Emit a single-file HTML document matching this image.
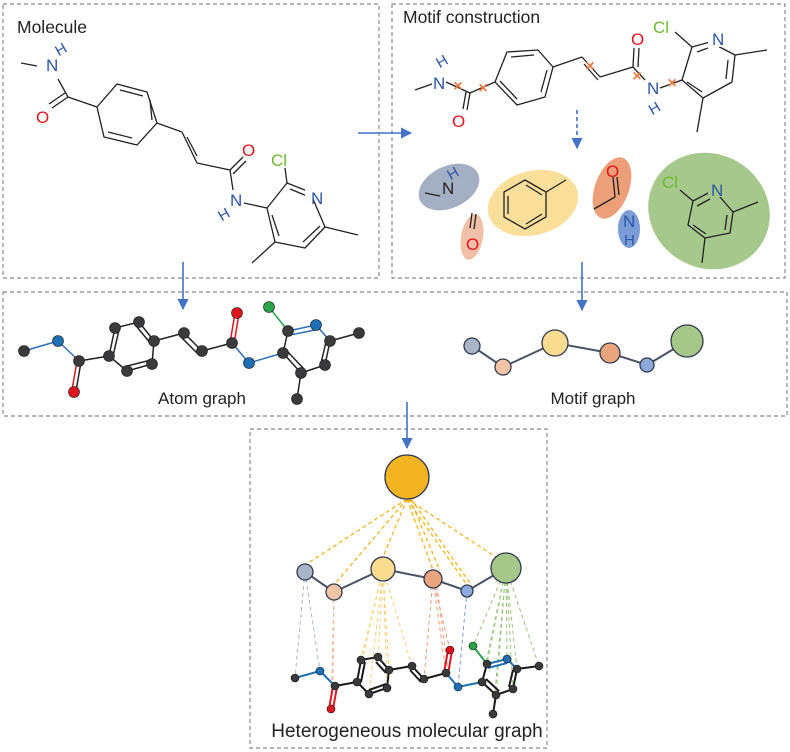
<!DOCTYPE html>
<html><head><meta charset="utf-8"><style>
html,body{margin:0;padding:0;background:#fff}
svg{display:block}
text{font-family:"Liberation Sans",Arial,sans-serif}
</style></head><body>
<svg width="790" height="752" viewBox="0 0 790 752" xmlns="http://www.w3.org/2000/svg">
<defs>
<marker id="ah" viewBox="0 0 10 10" refX="9" refY="5" markerWidth="7" markerHeight="7" orient="auto"><path d="M0,0 L10,5 L0,10 z" fill="#4472c4"/></marker>
</defs>
<g fill="none" stroke="#888" stroke-width="1.2" stroke-dasharray="4,3">
<rect x="3" y="4" width="376" height="274"/>
<rect x="392" y="4" width="393" height="274"/>
<rect x="3" y="292" width="784" height="124"/>
<rect x="250" y="429" width="297" height="319"/>
</g>
<g stroke="#4472c4" stroke-width="1.6" fill="none">
<line x1="358" y1="133" x2="411" y2="133" marker-end="url(#ah)"/>
<line x1="183" y1="262" x2="183" y2="309" marker-end="url(#ah)"/>
<line x1="582" y1="262" x2="582" y2="310" marker-end="url(#ah)"/>
<line x1="407" y1="402" x2="407" y2="448" marker-end="url(#ah)"/>
<line x1="577" y1="110" x2="577" y2="148" stroke-dasharray="4,3" marker-end="url(#ah)"/>
</g>
<text x="17" y="33" font-size="17.5" fill="#222">Molecule</text>
<text x="403" y="23" font-size="17.5" fill="#222">Motif construction</text>
<text x="202" y="404" font-size="17" fill="#222" text-anchor="middle">Atom graph</text>
<text x="593" y="404" font-size="17" fill="#222" text-anchor="middle">Motif graph</text>
<text x="407" y="737" font-size="19" fill="#222" text-anchor="middle">Heterogeneous molecular graph</text>

<g stroke="#222" stroke-width="1.3" fill="none">
<line x1="21" y1="63" x2="37" y2="66"/>
<line x1="58" y1="79" x2="68" y2="97"/>
<line x1="68" y1="97" x2="52" y2="108"/><line x1="65" y1="93" x2="49" y2="104"/>
<line x1="68" y1="97" x2="97" y2="107"/>
<polygon points="97,107 117,84 147,92 157,123 137,145 104,137"/>
<line x1="120" y1="90" x2="143" y2="96"/><line x1="150" y1="100" x2="152" y2="120"/><line x1="108" y1="132" x2="132" y2="138"/>
<line x1="157" y1="123" x2="182" y2="132"/>
<line x1="182" y1="132" x2="197" y2="163"/><line x1="187" y1="137" x2="197" y2="156"/>
<line x1="197" y1="163" x2="230" y2="170"/>
<line x1="230" y1="170" x2="243" y2="157"/><line x1="233" y1="174" x2="246" y2="161"/>
<line x1="230" y1="170" x2="233" y2="190"/>
<line x1="244" y1="203" x2="267" y2="208"/>
<polygon points="267,208 287,183 310,192 325,227 305,248 275,242" stroke-linejoin="round"/>
<line x1="290" y1="189" x2="307" y2="196" /><line x1="320" y1="226" x2="303" y2="242"/><line x1="272" y1="215" x2="279" y2="236"/>
<line x1="287" y1="183" x2="285" y2="168"/>
<line x1="325" y1="227" x2="358" y2="235"/>
<line x1="275" y1="242" x2="252" y2="263"/>
</g>
<rect x="305" y="183" width="16" height="16" fill="#fff"/>
<g font-size="17">
<text x="46" y="71" fill="#2e56a8">N</text>
<text x="56" y="54" fill="#2e56a8" font-size="15" transform="rotate(-30 62 50)">H</text>
<text x="36" y="123" fill="#e8141c">O</text>
<text x="242" y="156" fill="#e8141c">O</text>
<text x="230" y="206" fill="#2e56a8">N</text>
<text x="219" y="219" fill="#2e56a8" font-size="15" transform="rotate(-30 225 215)">H</text>
<text x="271" y="166" fill="#6dbb2e">Cl</text>
<text x="311" y="204" fill="#2e56a8">N</text>
</g>

<g stroke="#222" stroke-width="1.3" fill="none">
<line x1="415" y1="90" x2="432" y2="84"/>
<line x1="446" y1="82" x2="470" y2="93"/>
<line x1="470" y1="93" x2="467" y2="110"/><line x1="466" y1="92" x2="463" y2="109"/>
<line x1="470" y1="93" x2="495" y2="82"/>
<polygon points="495,82 507,52 538,50 553,67 545,97 517,105"/>
<line x1="511" y1="57" x2="534" y2="55"/><line x1="547" y1="70" x2="541" y2="92"/><line x1="500" y1="81" x2="517" y2="99"/>
<line x1="553" y1="67" x2="582" y2="57"/>
<line x1="582" y1="57" x2="600" y2="77"/><line x1="584" y1="64" x2="598" y2="80"/>
<line x1="600" y1="77" x2="633" y2="67"/>
<line x1="633" y1="67" x2="634" y2="48"/><line x1="638" y1="67" x2="639" y2="48"/>
<line x1="633" y1="67" x2="645" y2="80"/>
<line x1="660" y1="88" x2="682" y2="80"/>
<polygon points="682,80 692,47 710,42 735,55 732,82 703,98" stroke-linejoin="round"/>
<line x1="697" y1="52" x2="708" y2="48"/><line x1="728" y1="60" x2="726" y2="79"/><line x1="687" y1="82" x2="702" y2="92"/>
<line x1="692" y1="47" x2="675" y2="32"/>
<line x1="735" y1="55" x2="767" y2="50"/>
<line x1="703" y1="98" x2="697" y2="132"/>
</g>
<rect x="708" y="31" width="16" height="16" fill="#fff"/>
<g font-size="17">
<text x="433" y="89" fill="#2e56a8">N</text>
<text x="437" y="66" fill="#2e56a8" font-size="15" transform="rotate(-30 443 62)">H</text>
<text x="452" y="127" fill="#e8141c">O</text>
<text x="631" y="45" fill="#e8141c">O</text>
<text x="647" y="94" fill="#2e56a8">N</text>
<text x="649" y="113" fill="#2e56a8" font-size="15" transform="rotate(-30 655 108)">H</text>
<text x="653" y="33" fill="#6dbb2e">Cl</text>
<text x="712" y="45" fill="#2e56a8">N</text>
</g>
<g fill="#f07a45" font-size="16" font-weight="bold" text-anchor="middle">
<text x="458" y="91">×</text><text x="483" y="93">×</text><text x="590" y="71">×</text><text x="637" y="81">×</text><text x="672" y="88">×</text>
</g>

<ellipse cx="449" cy="187" rx="32" ry="21" fill="#a4afc3" transform="rotate(-25 449 187)"/>
<ellipse cx="472" cy="237" rx="11" ry="23" fill="#f2c0a8" transform="rotate(10 472 237)"/>
<ellipse cx="533" cy="203" rx="46" ry="32" fill="#fadf9a" transform="rotate(-15 533 203)"/>
<ellipse cx="612" cy="188" rx="17" ry="32" fill="#ec9f78" transform="rotate(20 612 188)"/>
<ellipse cx="629" cy="229" rx="11" ry="19" fill="#7c9cd6"/>
<ellipse cx="709" cy="211" rx="62" ry="57" fill="#a6c88d" transform="rotate(30 709 211)"/>
<g stroke="#222" stroke-width="1.3" fill="none">
<line x1="425" y1="193" x2="440" y2="196"/>
<line x1="472" y1="213" x2="470" y2="228"/><line x1="476" y1="214" x2="474" y2="229"/>
<polygon points="525,180 546,192 546,217 525,229 504,217 504,192"/>
<line x1="508" y1="196" x2="508" y2="214"/><line x1="526" y1="185" x2="542" y2="195"/><line x1="526" y1="224" x2="542" y2="214"/>
<line x1="546" y1="192" x2="566" y2="180"/>
<line x1="594" y1="209" x2="615" y2="197"/><line x1="615" y1="197" x2="613" y2="177"/><line x1="619" y1="195" x2="617" y2="177"/>
<polygon points="693,201 714,190 733,212 730,233 705,238 688,225" stroke-linejoin="round"/>
<line x1="697" y1="206" x2="710" y2="199"/><line x1="727" y1="215" x2="725" y2="230"/><line x1="693" y1="225" x2="706" y2="234"/>
<line x1="693" y1="201" x2="680" y2="190"/>
<line x1="733" y1="212" x2="758" y2="202"/>
<line x1="705" y1="238" x2="702" y2="263"/>
</g>
<rect x="708" y="182" width="15" height="15" fill="#a6c88d"/>
<g font-size="17">
<text x="442" y="194" fill="#222">N</text>
<text x="448" y="178" fill="#2e56a8" font-size="15" transform="rotate(-30 454 174)">H</text>
<text x="466" y="250" fill="#e8141c">O</text>
<text x="606" y="177" fill="#e8141c">O</text>
<text x="623" y="227" fill="#2e56a8">N</text>
<text x="624" y="245" fill="#2e56a8" font-size="15">H</text>
<text x="662" y="188" fill="#6dbb2e">Cl</text>
<text x="711" y="196" fill="#2e56a8">N</text>
</g>

<g stroke-width="1.5" fill="none">
<line x1="24" y1="351" x2="58" y2="341" stroke="#2d6fb8"/>
<line x1="58" y1="341" x2="79" y2="361" stroke="#2d6fb8"/>
<line x1="77" y1="361" x2="72" y2="390" stroke="#e0141e"/><line x1="81" y1="362" x2="76" y2="391" stroke="#222"/>
<g stroke="#222">
<line x1="79" y1="361" x2="109" y2="356"/>
<line x1="109" y1="356" x2="115" y2="328"/><line x1="113" y1="356" x2="119" y2="330"/>
<line x1="115" y1="328" x2="139" y2="322"/>
<line x1="139" y1="322" x2="154" y2="341"/><line x1="137" y1="327" x2="151" y2="344"/>
<line x1="154" y1="341" x2="152" y2="364"/>
<line x1="152" y1="364" x2="127" y2="371"/><line x1="151" y1="360" x2="127" y2="366"/>
<line x1="127" y1="371" x2="109" y2="356"/>
<line x1="154" y1="341" x2="184" y2="333"/>
<line x1="184" y1="333" x2="202" y2="351"/><line x1="181" y1="337" x2="199" y2="355"/>
<line x1="202" y1="351" x2="232" y2="343"/>
<line x1="283" y1="353" x2="288" y2="331"/>
<line x1="283" y1="353" x2="301" y2="373"/><line x1="287" y1="351" x2="304" y2="369"/>
<line x1="301" y1="373" x2="325" y2="365"/>
<line x1="325" y1="365" x2="330" y2="341"/><line x1="321" y1="363" x2="326" y2="342"/>
<line x1="330" y1="341" x2="359" y2="333"/>
<line x1="301" y1="373" x2="297" y2="399"/>
</g>
<line x1="230" y1="343" x2="235" y2="313" stroke="#e0141e"/><line x1="234" y1="344" x2="239" y2="314" stroke="#e0141e"/>
<line x1="232" y1="343" x2="249" y2="363" stroke="#2d6fb8"/>
<line x1="249" y1="363" x2="283" y2="353" stroke="#2d6fb8"/>
<line x1="288" y1="331" x2="269" y2="307" stroke="#2aa34a"/>
<line x1="288" y1="331" x2="316" y2="325" stroke="#2d6fb8"/><line x1="290" y1="335" x2="315" y2="330" stroke="#2d6fb8"/>
<line x1="316" y1="325" x2="330" y2="341" stroke="#2d6fb8"/>
</g>
<g stroke="#1a1a1a" stroke-width="0.6">
<g fill="#3a3a3d">
<circle cx="24" cy="351" r="5.5"/><circle cx="79" cy="361" r="5.5"/><circle cx="109" cy="356" r="5.5"/><circle cx="115" cy="328" r="5.5"/><circle cx="139" cy="322" r="5.5"/><circle cx="154" cy="341" r="5.5"/><circle cx="152" cy="364" r="5.5"/><circle cx="127" cy="371" r="5.5"/><circle cx="184" cy="333" r="5.5"/><circle cx="202" cy="351" r="5.5"/><circle cx="232" cy="343" r="5.5"/><circle cx="283" cy="353" r="5.5"/><circle cx="288" cy="331" r="5.5"/><circle cx="330" cy="341" r="5.5"/><circle cx="359" cy="333" r="5.5"/><circle cx="325" cy="365" r="5.5"/><circle cx="301" cy="373" r="5.5"/><circle cx="297" cy="399" r="5.5"/>
</g>
<g fill="#1f6fb5"><circle cx="58" cy="341" r="5.5"/><circle cx="249" cy="363" r="5.5"/><circle cx="316" cy="325" r="5.5"/></g>
<g fill="#e0141e"><circle cx="74" cy="392" r="5.5"/><circle cx="237" cy="313" r="5.5"/></g>
<circle cx="269" cy="307" r="5.5" fill="#2aa34a"/>
</g>

<g stroke="#4a5266" stroke-width="2" fill="none">
<polyline points="472,346 503,367 555,343 610,353 647,365 687,341"/>
</g>
<g stroke="#2f3a4f" stroke-width="1.3">
<circle cx="472" cy="346" r="8" fill="#a9b4c6"/>
<circle cx="503" cy="367" r="8" fill="#f3c4a8"/>
<circle cx="555" cy="343" r="13" fill="#f9dc8f"/>
<circle cx="610" cy="353" r="10" fill="#eba57e"/>
<circle cx="647" cy="365" r="7" fill="#8ea9db"/>
<circle cx="687" cy="341" r="16" fill="#a7c78a"/>
</g>

<g stroke="#f4b320" stroke-width="1.3" stroke-dasharray="4,3" fill="none">
<line x1="407" y1="499" x2="305" y2="565"/>
<line x1="407" y1="499" x2="334" y2="585"/>
<line x1="407" y1="499" x2="383" y2="557"/>
<line x1="407" y1="499" x2="433" y2="570"/>
<line x1="407" y1="499" x2="467" y2="585"/>
<line x1="407" y1="499" x2="496" y2="557"/>
<line x1="410" y1="499" x2="440" y2="571"/>
<line x1="411" y1="499" x2="472" y2="586"/>
</g>
<g stroke-width="1" stroke-dasharray="4,3" fill="none">
<g stroke="#a9b4cc"><line x1="305" y1="572" x2="295" y2="678"/><line x1="305" y1="572" x2="320" y2="671"/></g>
<g stroke="#f3b898"><line x1="334" y1="592" x2="333" y2="686"/><line x1="334" y1="592" x2="331" y2="709"/></g>
<g stroke="#f8d27a"><line x1="383" y1="569" x2="357" y2="682"/><line x1="383" y1="569" x2="361" y2="660"/><line x1="383" y1="569" x2="378" y2="657"/><line x1="383" y1="569" x2="389" y2="670"/><line x1="383" y1="569" x2="387" y2="688"/><line x1="383" y1="569" x2="369" y2="694"/><line x1="383" y1="569" x2="412" y2="666"/></g>
<g stroke="#eb9c76"><line x1="433" y1="579" x2="424" y2="679"/><line x1="433" y1="579" x2="446" y2="673"/><line x1="433" y1="579" x2="450" y2="650"/><line x1="436" y1="579" x2="448" y2="670"/></g>
<g stroke="#7c9cd6"><line x1="467" y1="591" x2="458" y2="687"/></g>
<g stroke="#9cc47e"><line x1="506" y1="568" x2="473" y2="646"/><line x1="506" y1="568" x2="482" y2="682"/><line x1="506" y1="568" x2="487" y2="664"/><line x1="506" y1="568" x2="507" y2="659"/><line x1="506" y1="568" x2="517" y2="669"/><line x1="506" y1="568" x2="539" y2="666"/><line x1="506" y1="568" x2="513" y2="689"/><line x1="506" y1="568" x2="496" y2="695"/><line x1="506" y1="568" x2="493" y2="714"/></g>
</g>
<g stroke="#4a5266" stroke-width="2" fill="none">
<polyline points="305,572 334,592 383,569 433,579 467,591 506,568"/>
</g>
<circle cx="407" cy="477" r="22" fill="#f4b320" stroke="#2f3a4f" stroke-width="1.3"/>
<g stroke="#2f3a4f" stroke-width="1.3">
<circle cx="305" cy="572" r="8" fill="#a9b4c6"/>
<circle cx="334" cy="592" r="8" fill="#f3c4a8"/>
<circle cx="383" cy="569" r="12" fill="#f9dc8f"/>
<circle cx="433" cy="579" r="9" fill="#eba57e"/>
<circle cx="467" cy="591" r="6" fill="#8ea9db"/>
<circle cx="506" cy="568" r="15" fill="#a7c78a"/>
</g>
<g stroke-width="2" fill="none">
<line x1="295" y1="678" x2="320" y2="671" stroke="#1f6fb5"/>
<line x1="320" y1="671" x2="335" y2="686" stroke="#1f6fb5"/>
<line x1="333" y1="686" x2="329" y2="709" stroke="#e0141e"/><line x1="337" y1="687" x2="333" y2="709" stroke="#e0141e"/>
<g stroke="#1a1a1a">
<line x1="335" y1="686" x2="357" y2="682"/>
<line x1="357" y1="682" x2="361" y2="660"/><line x1="361" y1="682" x2="365" y2="662"/>
<line x1="361" y1="660" x2="378" y2="657"/>
<line x1="378" y1="657" x2="389" y2="670"/><line x1="376" y1="662" x2="386" y2="673"/>
<line x1="389" y1="670" x2="387" y2="688"/>
<line x1="387" y1="688" x2="369" y2="694"/><line x1="386" y1="684" x2="369" y2="690"/>
<line x1="369" y1="694" x2="357" y2="682"/>
<line x1="389" y1="670" x2="412" y2="666"/>
<line x1="412" y1="666" x2="424" y2="679"/><line x1="410" y1="670" x2="421" y2="682"/>
<line x1="424" y1="679" x2="446" y2="673"/>
<line x1="482" y1="682" x2="487" y2="664"/>
<line x1="482" y1="682" x2="496" y2="695"/><line x1="486" y1="679" x2="499" y2="691"/>
<line x1="496" y1="695" x2="513" y2="689"/>
<line x1="513" y1="689" x2="517" y2="669"/><line x1="509" y1="687" x2="513" y2="670"/>
<line x1="517" y1="669" x2="539" y2="666"/>
<line x1="496" y1="695" x2="493" y2="714"/>
</g>
<line x1="444" y1="673" x2="448" y2="650" stroke="#e0141e"/><line x1="448" y1="674" x2="452" y2="651" stroke="#e0141e"/>
<line x1="446" y1="673" x2="458" y2="687" stroke="#1f6fb5"/>
<line x1="458" y1="687" x2="482" y2="682" stroke="#1f6fb5"/>
<line x1="487" y1="664" x2="473" y2="646" stroke="#2aa34a"/>
<line x1="487" y1="664" x2="507" y2="659" stroke="#1f6fb5"/><line x1="488" y1="668" x2="507" y2="663" stroke="#1f6fb5"/>
<line x1="507" y1="659" x2="517" y2="669" stroke="#1f6fb5"/>
</g>
<g stroke="#111" stroke-width="0.6">
<g fill="#3a3a3d">
<circle cx="295" cy="678" r="4"/><circle cx="335" cy="686" r="4"/><circle cx="357" cy="682" r="4"/><circle cx="361" cy="660" r="4"/><circle cx="378" cy="657" r="4"/><circle cx="389" cy="670" r="4"/><circle cx="387" cy="688" r="4"/><circle cx="369" cy="694" r="4"/><circle cx="412" cy="666" r="4"/><circle cx="424" cy="679" r="4"/><circle cx="446" cy="673" r="4"/><circle cx="482" cy="682" r="4"/><circle cx="487" cy="664" r="4"/><circle cx="517" cy="669" r="4"/><circle cx="539" cy="666" r="4"/><circle cx="513" cy="689" r="4"/><circle cx="496" cy="695" r="4"/><circle cx="493" cy="714" r="4"/>
</g>
<g fill="#1f6fb5"><circle cx="320" cy="671" r="4"/><circle cx="458" cy="687" r="4"/><circle cx="507" cy="659" r="4"/></g>
<g fill="#e0141e"><circle cx="331" cy="709" r="4"/><circle cx="450" cy="650" r="4"/></g>
<circle cx="473" cy="646" r="4" fill="#2aa34a"/>
</g>
</svg>
</body></html>
